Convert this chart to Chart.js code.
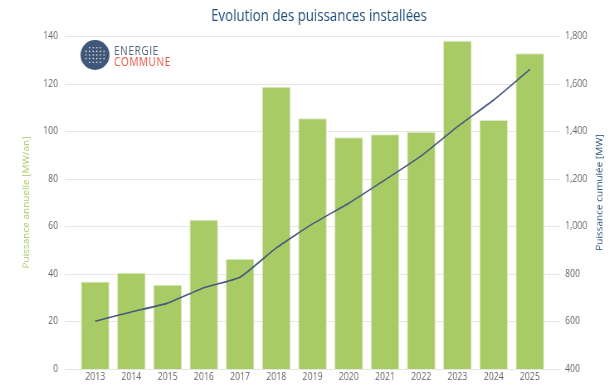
<!DOCTYPE html>
<html>
<head>
<meta charset="utf-8">
<title>Evolution des puissances installées</title>
<script src="https://cdn.jsdelivr.net/npm/chart.js@4.4.1/dist/chart.umd.min.js"></script>
<style>
    html, body { margin: 0; padding: 0; background: #ffffff; overflow: hidden; }
</style>
</head>
<body>
<!-- drawn 740px wide then squeezed to 614px: gives the narrow lettering of the original -->
<canvas id="chart" width="740" height="390" style="display: block; width: 614px; height: 390px;"></canvas>
<script>
var years = ["2013", "2014", "2015", "2016", "2017", "2018", "2019", "2020", "2021", "2022", "2023", "2024", "2025"];
var annual_mw = [36.8, 40.5, 35.4, 62.7, 46.4, 118.7, 105.4, 97.4, 98.7, 99.6, 138.0, 104.7, 132.7];
var cumulative_mw = [601, 640, 677, 742, 786, 909, 1010, 1097, 1195, 1296, 1419, 1531, 1660];
var annual_ticks = [0, 20, 40, 60, 80, 100, 120, 140];
var cumulative_ticks = [400, 600, 800, 1000, 1200, 1400, 1600, 1800];

var title_text = "Evolution des puissances installées";
var left_title = "Puissance annuelle [MW/an]";
var right_title = "Puissance cumulée [MW]";

var bar_color = "#a9cb66";
var line_color = "#44597c";
var title_color = "#1f4e79";
var font_family = "'Open Sans', 'Noto Sans', sans-serif";

var SX = 740 / 614;  // canvas px per screen px, horizontally

Chart.defaults.font.family = font_family;
Chart.defaults.font.size = 10.5;
Chart.defaults.color = "#666666";

function set_ticks (values) {
    return function (scale) {
        scale.ticks = values.map(function (v) { return {"value": v}; });
    };
}

// Fixed axis width, and no label overflow padding pushing the plot area around
function fix_width (width) {
    return function (scale) {
        scale.width = width;
        scale.paddingTop = 0;
        scale.paddingBottom = 0;
    };
}

// Horizontal grid lines run a bit wider than the plot area
var grid_plugin = {
    "id": "wide_grid",
    "beforeDatasetsDraw": function (chart) {
        var ctx = chart.ctx;
        var y_scale = chart.scales["y"];

        ctx.save();
        ctx.strokeStyle = "#e6e6e6";
        ctx.lineWidth = 1;

        for (var i in annual_ticks) {
            var y = Math.round(y_scale.getPixelForValue(annual_ticks[i])) + 0.5;

            ctx.beginPath();
            ctx.moveTo(65 * SX, y);
            ctx.lineTo(560 * SX, y);
            ctx.stroke();
        }

        ctx.restore();
    }
};

// Title, right axis title and logo
var deco_plugin = {
    "id": "deco",
    "afterDraw": function (chart) {
        var ctx = chart.ctx;
        var area = chart.chartArea;

        ctx.save();

        ctx.fillStyle = title_color;
        ctx.font = "16px " + font_family;
        ctx.textAlign = "center";
        ctx.textBaseline = "middle";
        ctx.fillText(title_text, 319 * SX, 16);

        ctx.translate(600 * SX, (area.top + area.bottom) / 2 - 10);
        ctx.rotate(-Math.PI / 2);
        ctx.font = "10px " + font_family;
        ctx.fillText(right_title, 0, 0);

        ctx.restore();

        // Logo
        var cx = 95 * SX;
        var cy = 55;

        ctx.save();
        ctx.fillStyle = "#3f5877";
        ctx.beginPath();
        ctx.ellipse(cx, cy, 14.5 * SX, 15, 0, 0, Math.PI * 2);
        ctx.fill();

        ctx.fillStyle = "rgba(255, 255, 255, 0.8)";

        for (var r = -2; r <= 2; r++) {
            for (var c = -2.5; c <= 2.5; c++) {
                var dx = c * 3.6;
                var dy = r * 3.6;

                if (dx * dx + dy * dy > 100) {
                    continue;
                }

                ctx.beginPath();
                ctx.ellipse(cx + dx * SX, cy + dy, 0.8 * SX, 0.8, 0, 0, Math.PI * 2);
                ctx.fill();
            }
        }

        ctx.font = "12px 'Open Sans', sans-serif";
        ctx.textAlign = "left";
        ctx.textBaseline = "alphabetic";
        ctx.letterSpacing = "0.8px";
        ctx.fillStyle = "#4f6079";
        ctx.fillText("ENERGIE", 114 * SX, 54.5);
        ctx.fillStyle = "#e9503e";
        ctx.fillText("COMMUNE", 114 * SX, 65.5);
        ctx.restore();
    }
};

var chart = new Chart(document.getElementById("chart").getContext("2d"), {
    "data": {
        "labels": years,
        "datasets": [
            {
                "type": "line",
                "label": right_title,
                "data": cumulative_mw,
                "yAxisID": "y1",
                "borderColor": line_color,
                "borderWidth": 1.6,
                "pointRadius": 0,
                "tension": 0.15,
                "order": 0
            },
            {
                "type": "bar",
                "label": left_title,
                "data": annual_mw,
                "yAxisID": "y",
                "backgroundColor": bar_color,
                "borderColor": "#dcebc4",
                "borderWidth": 1,
                "categoryPercentage": 1,
                "barPercentage": 0.79,
                "order": 1
            }
        ]
    },
    "options": {
        "responsive": false,
        "animation": false,
        "locale": "en-US",
        "layout": {
            "padding": {"top": 36, "left": 0, "right": 0, "bottom": 0}
        },
        "scales": {
            "x": {
                "grid": {"display": false, "drawTicks": false},
                "border": {"display": false},
                "ticks": {"padding": 1.5, "maxRotation": 0, "autoSkip": false},
                "afterFit": function (scale) { scale.height = 21; }
            },
            "y": {
                "position": "left",
                "min": 0,
                "max": 140,
                "grid": {"display": false, "drawTicks": false},
                "border": {"display": false},
                "ticks": {"padding": 19 * SX},
                "afterBuildTicks": set_ticks(annual_ticks),
                "afterFit": fix_width(77 * SX),
                "title": {
                    "display": true,
                    "text": left_title,
                    "color": bar_color,
                    "font": {"size": 10},
                    "padding": {"top": 26.5, "bottom": 0}
                }
            },
            "y1": {
                "position": "right",
                "min": 400,
                "max": 1800,
                "grid": {"display": false, "drawTicks": false},
                "border": {"display": false},
                "ticks": {"padding": 17 * SX},
                "afterBuildTicks": set_ticks(cumulative_ticks),
                "afterFit": fix_width(66 * SX)
            }
        },
        "plugins": {
            "legend": {"display": false},
            "tooltip": {"enabled": false},
            "title": {"display": false}
        }
    },
    "plugins": [grid_plugin, deco_plugin]
});
</script>
</body>
</html>
